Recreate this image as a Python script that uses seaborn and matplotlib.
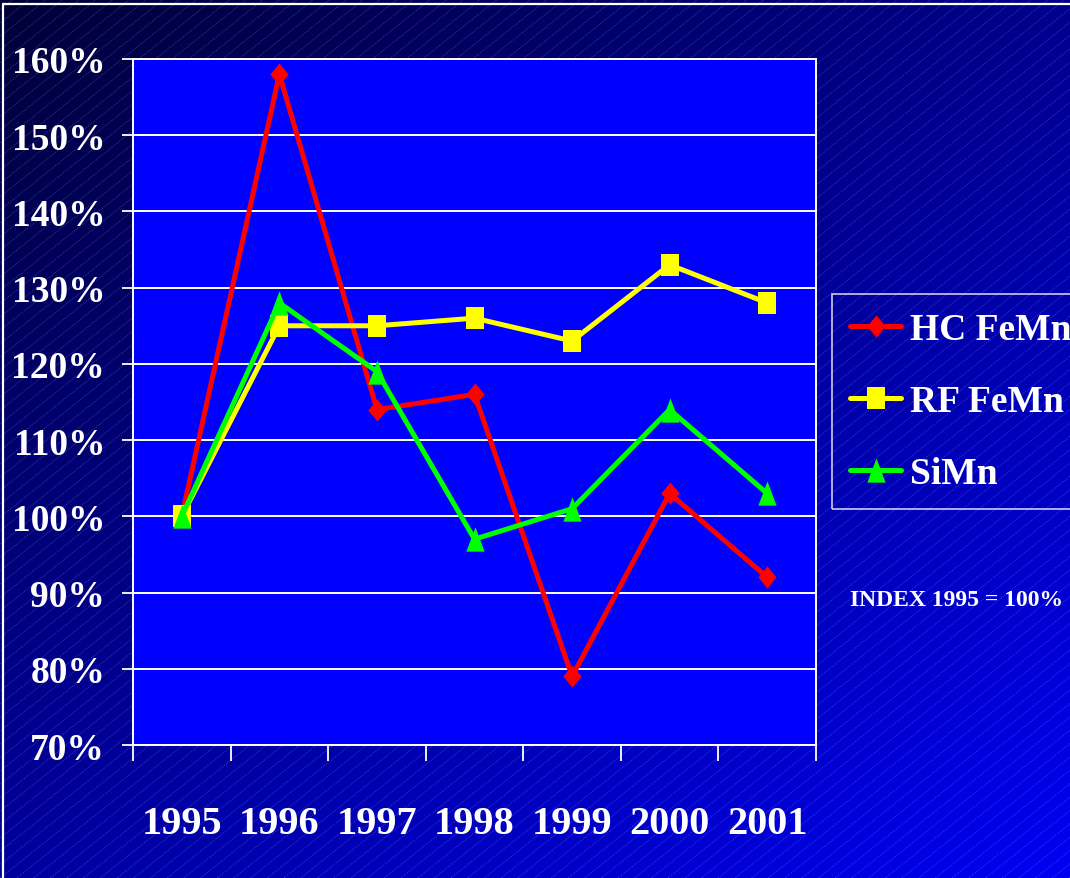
import numpy as np
import pandas as pd
import matplotlib
matplotlib.use("Agg")
import matplotlib.pyplot as plt
from matplotlib.lines import Line2D
import seaborn as sns

# ---- data -------------------------------------------------------------
years = ["1995", "1996", "1997", "1998", "1999", "2000", "2001"]
hc_femn = [100, 158, 114, 116, 79, 103, 92]
rf_femn = [100, 125, 125, 126, 123, 133, 128]
simn = [100, 128, 119, 97, 101, 114, 103]
series_names = ["HC FeMn", "RF FeMn", "SiMn"]
y_ticks = [70, 80, 90, 100, 110, 120, 130, 140, 150, 160]
note = "INDEX 1995 = 100%"

# ---- styling ------------------------------------------------------------
sns.set_style("white")
plt.rcParams["font.family"] = ["Liberation Serif", "DejaVu Serif"]
plt.rcParams["font.weight"] = "bold"

W, H, DPI = 1070, 879, 100
fig = plt.figure(figsize=(W / DPI, H / DPI), dpi=DPI)

# slide background: diagonal navy-to-blue gradient with fine diagonal hatching
bg = fig.add_axes([0, 0, 1, 1], zorder=-10)
bg.set_xlim(0, W)
bg.set_ylim(0, H)
bg.axis("off")
gx, gy = np.meshgrid(np.linspace(0, 1, 200), np.linspace(0, 1, 200))  # gy: 0 bottom, 1 top
top = 1 - gy
blue = np.clip(0.22 + 0.33 * gx + 0.40 * top, 0, 1)
img = np.zeros(gx.shape + (3,))
img[..., 2] = blue
bg.imshow(img, extent=(0, W, 0, H), origin="lower", aspect="auto", interpolation="bilinear")
slope = 0.8
spacing = 16.7
for x0 in np.arange(-H / slope - 20, W + 20, spacing):
    xs = np.array([x0, x0 + (H + 20) / slope])
    ys = (xs - x0) * slope
    bg.plot(xs, ys, color=(0.65, 0.7, 1.0), alpha=0.35, lw=0.6,
            ls=(0, (1.2, 1.2)), solid_capstyle="butt")
# white frame around the slide
bg.plot([3, 3], [0, H - 5], color="white", lw=1.6)
bg.plot([3, W], [H - 5, H - 5], color="white", lw=1.6)

# ---- chart ----------------------------------------------------------------
left, right, top_px, bottom_px = 133, 816, 60, 746
ax = fig.add_axes([left / W, 1 - bottom_px / H, (right - left) / W, (bottom_px - top_px) / H])
ax.set_facecolor("#0000FF")

pos = np.arange(len(years))
df = pd.DataFrame({
    "pos": np.tile(pos, 3),
    "value": hc_femn + rf_femn + simn,
    "series": np.repeat(series_names, len(years)),
})

palette = {"HC FeMn": "#FF0000", "RF FeMn": "#FFFF00", "SiMn": "#00FF00"}
diamond = [(0, 1), (0.82, 0), (0, -1), (-0.82, 0)]
square = [(-0.82, -1), (0.82, -1), (0.82, 1), (-0.82, 1)]
triangle = [(0, 1), (0.75, -1), (-0.75, -1)]
markers = {"HC FeMn": diamond, "RF FeMn": square, "SiMn": triangle}
msizes = {"HC FeMn": 16, "RF FeMn": 16, "SiMn": 17.5}

sns.lineplot(data=df, x="pos", y="value", hue="series", style="series",
             hue_order=series_names, style_order=series_names,
             palette=palette, markers=markers, dashes=False, sort=False,
             linewidth=3.6, markersize=16, markeredgewidth=0,
             legend=False, ax=ax, zorder=3)
for line, name in zip(ax.lines, series_names):
    line.set_markersize(msizes[name])
    line.set_clip_on(False)

ax.set_xlim(-0.5, len(years) - 0.5)
ax.set_ylim(70, 160)
ax.set_xlabel("")
ax.set_ylabel("")

ax.set_yticks(y_ticks)
ax.set_yticklabels([f"{v}%" for v in y_ticks])
ax.yaxis.grid(True, color="white", lw=1.4, zorder=1)
ax.set_axisbelow(True)

ax.set_xticks(pos)
ax.set_xticklabels(years)
ax.set_xticks(np.arange(-0.5, len(years)), minor=True)

ax.tick_params(axis="y", which="major", direction="out", length=8, width=1.3,
               color="white", labelcolor="white", labelsize=27, pad=12, left=True)
ax.tick_params(axis="x", which="major", length=0, labelcolor="white",
               labelsize=29, pad=43, bottom=True)
ax.tick_params(axis="x", which="minor", direction="out", length=11.5, width=1.3,
               color="white", bottom=True)
for lab in ax.get_xticklabels() + ax.get_yticklabels():
    lab.set_fontweight("bold")

for sp in ax.spines.values():
    sp.set_visible(True)
    sp.set_color("white")
    sp.set_linewidth(1.4)

# legend box to the right of the plot
handles = [Line2D([0], [0], color=palette[n], lw=3.6, marker=markers[n],
                  markersize=msizes[n], markeredgewidth=0) for n in series_names]
leg = ax.legend(handles, series_names, loc="upper left",
                bbox_to_anchor=(832 / W, 1 - 295 / H), bbox_transform=fig.transFigure,
                borderaxespad=0, frameon=True, fancybox=False,
                prop={"family": "Liberation Serif", "weight": "bold", "size": 27},
                handlelength=1.36, handletextpad=0.24, borderpad=0.48,
                labelspacing=0.99)
leg.get_frame().set_facecolor("none")
leg.get_frame().set_edgecolor("white")
leg.get_frame().set_linewidth(1.2)
for t in leg.get_texts():
    t.set_color("white")

fig.text(850 / W, 1 - 600 / H, note, color="white", fontsize=17,
         fontweight="bold", ha="left", va="center")

fig.savefig("out.png", dpi=DPI)
